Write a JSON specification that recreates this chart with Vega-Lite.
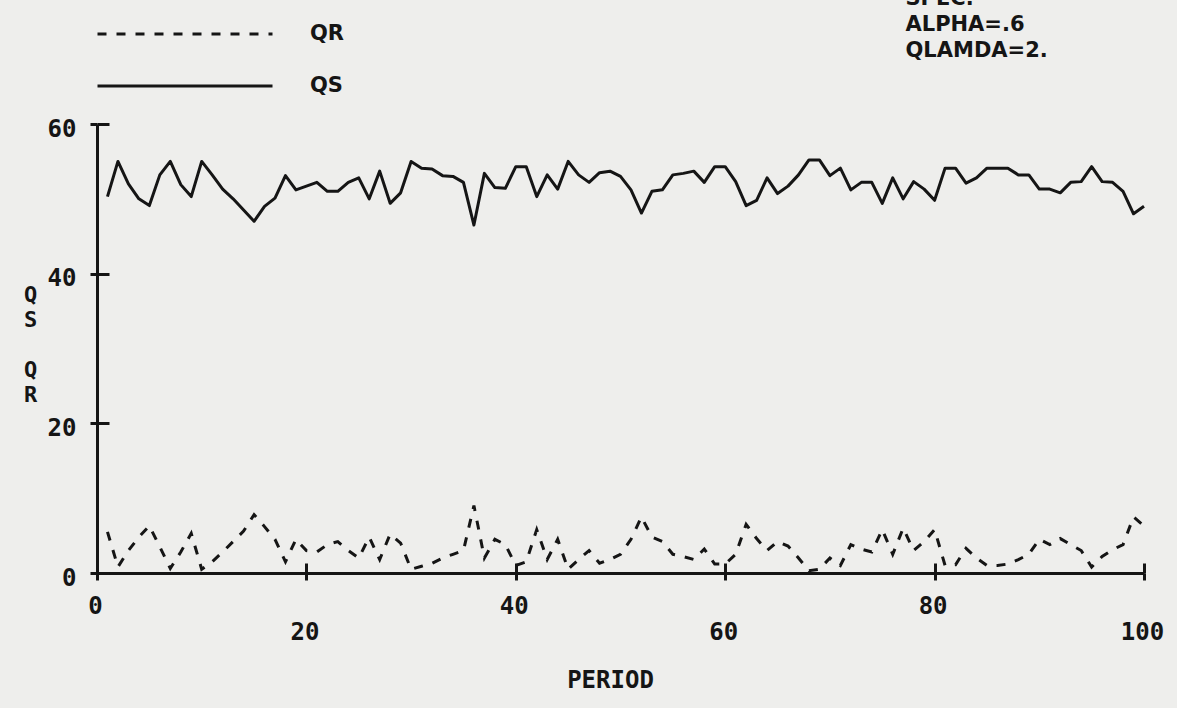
{
  "$schema": "https://vega.github.io/schema/vega-lite/v6.json",
  "width": 1047,
  "height": 449,
  "autosize": "none",
  "padding": {"left": 97, "top": 124, "right": 33, "bottom": 135},
  "background": "#eeeeec",
  "config": {"view": {"stroke": null}},
  "datasets": {
    "qs": [50.3,55.0,52.0,50.0,49.1,53.2,55.0,51.9,50.3,55.0,53.2,51.3,50.0,48.5,47.0,49.0,50.1,53.1,51.2,51.7,52.2,51.0,51.0,52.2,52.8,50.0,53.7,49.4,50.8,55.0,54.1,54.0,53.1,53.0,52.2,46.5,53.4,51.5,51.4,54.3,54.3,50.3,53.2,51.3,55.0,53.2,52.2,53.5,53.7,53.0,51.2,48.1,51.0,51.2,53.2,53.4,53.7,52.2,54.3,54.3,52.3,49.1,49.8,52.8,50.7,51.7,53.2,55.2,55.2,53.1,54.1,51.2,52.2,52.2,49.4,52.8,50.0,52.3,51.3,49.8,54.1,54.1,52.1,52.8,54.1,54.1,54.1,53.2,53.2,51.3,51.3,50.8,52.2,52.3,54.3,52.3,52.2,51.0,48.0,49.0],
    "qr": [5.5,0.8,3.0,4.8,6.3,3.5,0.6,2.8,5.3,0.5,1.5,2.8,4.2,5.6,7.8,6.2,4.5,1.5,4.5,3.0,2.8,3.8,4.2,3.0,2.0,4.8,1.8,5.2,4.0,0.5,0.9,1.3,2.0,2.5,3.0,9.0,2.0,4.5,3.8,1.0,1.5,5.8,1.8,4.5,0.5,1.8,3.0,1.3,1.8,2.5,4.5,7.5,4.8,4.2,2.5,2.2,1.8,3.2,1.2,1.2,2.5,6.5,4.6,3.0,4.2,3.6,2.0,0.3,0.5,2.0,1.0,3.8,3.2,2.8,5.8,2.5,6.0,3.0,4.2,5.8,1.0,1.1,3.3,2.0,1.0,1.0,1.2,1.8,2.5,4.5,3.8,4.6,3.8,3.0,0.8,2.2,3.1,3.8,7.5,6.3]
  },
  "layer": [
    {
      "data": {"name": "qs"},
      "transform": [
        {"window": [{"op": "row_number", "as": "period"}]},
        {"calculate": "'QS'", "as": "series"}
      ],
      "mark": {"type": "line", "strokeWidth": 3, "strokeJoin": "round"},
      "encoding": {
        "x": {
          "field": "period", "type": "quantitative",
          "scale": {"domain": [0, 100], "nice": false, "zero": false},
          "axis": {
            "orient": "bottom", "values": [0, 20, 40, 60, 80, 100], "grid": false,
            "domainWidth": 3, "domainColor": "#151515", "tickWidth": 3, "tickColor": "#151515", "tickSize": 7,
            "labelFont": "DejaVu Sans Mono", "labelFontWeight": "bold", "labelFontSize": 24, "labelColor": "#151515",
            "labelPadding": 14, "labelBaseline": "top", "labelLineHeight": 26, "labelOffset": -2,
            "labelFlush": false, "labelOverlap": false,
            "labelExpr": "datum.value % 40 == 0 ? datum.label : ['', datum.label]",
            "title": "PERIOD", "titleFont": "DejaVu Sans Mono", "titleFontWeight": "bold", "titleFontSize": 24,
            "titleColor": "#151515", "titleX": 513, "titleY": 95, "titleBaseline": "top", "titleAlign": "center"
          }
        },
        "y": {
          "field": "data", "type": "quantitative",
          "scale": {"domain": [0, 60], "nice": false},
          "axis": {
            "orient": "left", "values": [0, 20, 40, 60], "grid": false,
            "domainWidth": 3, "domainColor": "#151515", "tickWidth": 3, "tickColor": "#151515", "tickSize": 7,
            "labelFont": "DejaVu Sans Mono", "labelFontWeight": "bold", "labelFontSize": 24, "labelColor": "#151515",
            "labelPadding": 14, "labelBaseline": "middle", "labelOffset": 5, "labelFlush": false,
            "title": ["Q", "S"], "titleAngle": 0, "titleFont": "DejaVu Sans Mono", "titleFontWeight": "bold",
            "titleFontSize": 22, "titleColor": "#151515", "titleLineHeight": 25,
            "titleX": -67, "titleY": 160, "titleBaseline": "top", "titleAlign": "center"
          }
        },
        "color": {
          "field": "series", "type": "nominal",
          "scale": {"domain": ["QS"], "range": ["#151515"]},
          "legend": {
            "orient": "none", "legendX": -1, "legendY": -127, "direction": "vertical",
            "symbolType": "stroke", "symbolSize": 30625, "symbolStrokeWidth": 3,
            "labelFont": "DejaVu Sans", "labelFontWeight": "bold", "labelFontSize": 21, "labelColor": "#151515",
            "labelOffset": 36, "title": null, "padding": 0
          }
        }
      }
    },
    {
      "data": {"name": "qr"},
      "transform": [
        {"window": [{"op": "row_number", "as": "period"}]},
        {"calculate": "'QR'", "as": "series"}
      ],
      "mark": {"type": "line", "color": "#151515", "strokeWidth": 3, "strokeCap": "butt"},
      "encoding": {
        "x": {
          "field": "period", "type": "quantitative",
          "axis": {"orient": "bottom", "values": [0, 20, 40, 60, 80, 100], "grid": false, "domain": false, "labels": false,
            "tickSize": -10, "tickWidth": 3, "tickColor": "#151515",
            "title": ["Q", "R"], "titleAngle": 0, "titleFont": "DejaVu Sans Mono", "titleFontWeight": "bold",
            "titleFontSize": 22, "titleColor": "#151515", "titleLineHeight": 25,
            "titleX": -67, "titleY": -214, "titleBaseline": "top", "titleAlign": "center"}
        },
        "y": {
          "field": "data", "type": "quantitative",
          "axis": {"orient": "left", "values": [0, 20, 40, 60], "grid": false, "domain": false, "labels": false,
            "tickSize": -12, "tickWidth": 3, "tickColor": "#151515",
            "title": ["SPEC.", "ALPHA=.6", "QLAMDA=2."], "titleAngle": 0, "titleFont": "DejaVu Sans", "titleFontWeight": "bold",
            "titleFontSize": 21, "titleColor": "#151515", "titleLineHeight": 26,
            "titleX": 808, "titleY": -137, "titleBaseline": "top", "titleAlign": "left"}
        },
        "strokeDash": {
          "field": "series", "type": "nominal",
          "scale": {"domain": ["QR"], "range": [[9, 10]]},
          "legend": {
            "orient": "none", "legendX": -1, "legendY": -179, "direction": "vertical",
            "symbolType": "stroke", "symbolSize": 30625, "symbolStrokeWidth": 3, "symbolStrokeColor": "#151515",
            "labelFont": "DejaVu Sans", "labelFontWeight": "bold", "labelFontSize": 21, "labelColor": "#151515",
            "labelOffset": 36, "title": null, "padding": 0
          }
        }
      }
    }
  ],
  "resolve": {"axis": {"x": "independent", "y": "independent"}}
}
